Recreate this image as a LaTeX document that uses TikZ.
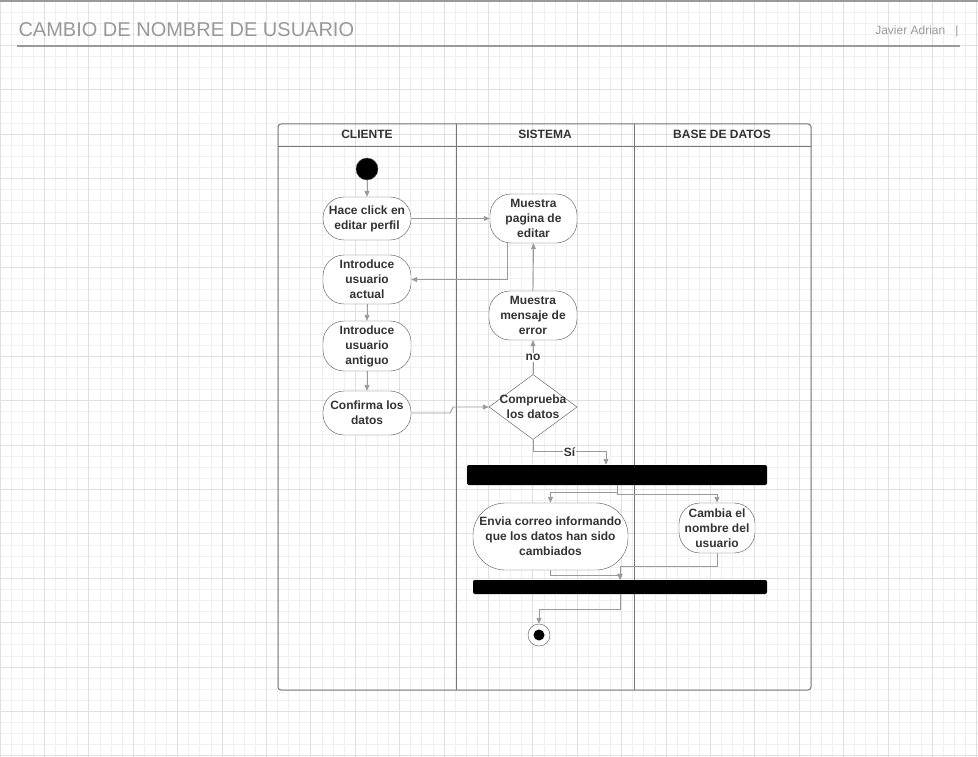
\documentclass[tikz,border=0pt]{standalone}
\usepackage{fontspec}
\setmainfont{Liberation Sans}
\usetikzlibrary{shapes.geometric,arrows.meta,positioning}
\definecolor{gridmin}{HTML}{F0F0F0}
\definecolor{gridmaj}{HTML}{E0E0E0}
\definecolor{nodeline}{HTML}{555555}
\definecolor{laneline}{HTML}{777777}
\definecolor{flowgray}{HTML}{9A9A9A}
\definecolor{txt}{HTML}{333333}
\definecolor{titlegray}{HTML}{999999}
\begin{document}
\begin{tikzpicture}[x=1pt,y=-1pt,
  act/.style={rectangle,draw=nodeline,fill=white,rounded corners=21pt,align=center,
    font=\fontsize{12}{15}\selectfont\bfseries,text=txt,inner sep=1pt},
  bar/.style={fill=black,rounded corners=2pt,inner sep=0pt},
  flow/.style={draw=flowgray,line width=0.9pt,-{Triangle[length=6pt,width=5pt]}},
  lbl/.style={font=\fontsize{12}{14}\selectfont\bfseries,text=txt,fill=white,inner sep=1pt},
  head/.style={font=\fontsize{12}{14}\selectfont\bfseries,text=txt}]
\useasboundingbox (0,0) rectangle (978,757);
\fill[white] (0,0) rectangle (978,757);
\draw[gridmin,line width=0.7pt,yshift=-1pt,step=11.1pt] (0,0) grid (978,757);
\draw[gridmaj,line width=0.7pt,yshift=-1pt,step=44.4pt] (0,0) grid (978,757);
\draw[titlegray,line width=2pt] (0,1) -- (978,1);
\node[anchor=west,font=\fontsize{20}{24}\selectfont,text=titlegray] (title) at (15,30) {CAMBIO DE NOMBRE DE USUARIO};
\node[anchor=east,font=\fontsize{12}{14}\selectfont,text=titlegray] (autor) at (962,31) {Javier Adrian~~~|};
\draw[titlegray,line width=1.2pt] (17,46) -- (960,46);

\draw[laneline,line width=1pt,rounded corners=3pt] (278,124) rectangle (811,690);
\draw[laneline,line width=1pt] (278,147) -- (811,147);
\draw[laneline,line width=1pt] (456,124) -- (456,690);
\draw[laneline,line width=1pt] (634,124) -- (634,690);
\node[head] (cliente) at (367,134) {CLIENTE};
\node[head] (sistema) at (545,134) {SISTEMA};
\node[head] (bd) at (722,134) {BASE DE DATOS};

\node[circle,fill=black,draw=nodeline,minimum size=22pt,inner sep=0pt] (ini) at (367,169) {};
\node[act,minimum width=88pt,minimum height=43pt] (click) at (367,218.5) {Hace click en\\editar perfil};
\node[act,minimum width=88pt,minimum height=49pt] (actual) at (367,279.5) {Introduce\\usuario\\actual};
\node[act,minimum width=88pt,minimum height=50pt] (antiguo) at (367,346) {Introduce\\usuario\\antiguo};
\node[act,minimum width=88pt,minimum height=44pt] (conf) at (367,413) {Confirma los\\datos};
\node[act,minimum width=87pt,minimum height=49pt] (pag) at (533.5,218.5) {Muestra\\pagina de\\editar};
\node[act,minimum width=88pt,minimum height=49pt] (err) at (533,315.5) {Muestra\\mensaje de\\error};
\node[diamond,draw=nodeline,fill=white,minimum width=88pt,minimum height=65pt,inner sep=0pt] (chk) at (533,407) {};
\node[align=center,font=\fontsize{12}{15}\selectfont\bfseries,text=txt] (chktxt) at (chk) {Comprueba\\los datos};
\node[bar,minimum width=300pt,minimum height=20pt] (fork) at (617,475) {};
\node[act,rounded corners=32pt,minimum width=155pt,minimum height=67pt] (envia) at (550.5,536.5) {Envia correo informando\\que los datos han sido\\cambiados};
\node[act,minimum width=76pt,minimum height=50pt] (cambia) at (717,528) {Cambia el\\nombre del\\usuario};
\node[bar,minimum width=294pt,minimum height=14pt] (join) at (620,587) {};
\node[circle,draw=nodeline,fill=white,minimum size=22pt,inner sep=0pt] (fin) at (539,635) {};
\node[circle,fill=black,minimum size=11pt,inner sep=0pt] (finin) at (fin) {};

\draw[flow] (ini) -- (click);
\draw[flow] (click) -- (pag);
\draw[flow] ([xshift=-26pt]pag.south) |- (actual.east);
\draw[flow] (actual) -- (antiguo);
\draw[flow] (antiguo) -- (conf);
\draw[flow] (conf.east) -- ++(39,0) -- ++(3,-6) -- (chk.west);
\draw[flow] (chk.north) -- node[lbl] {no} (err.south);
\draw[flow] (err.north) -- (pag.south);
\draw[flow] (chk.south) -- ++(0,12) -- node[lbl] {Sí} ++(73,0) -- ([xshift=-11pt]fork.north);
\draw[flow] (fork.south) -- ++(0,7) -| (envia.north);
\draw[flow] (fork.south) -- ++(0,9) -| (cambia.north);
\draw[flow] (envia.south) -- ++(0,5) -| (join.north);
\draw[flow] (cambia.south) -- ++(0,13) -| (join.north);
\draw[flow] (join.south) -- ++(0,15) -| (fin.north);
\end{tikzpicture}
\end{document}
